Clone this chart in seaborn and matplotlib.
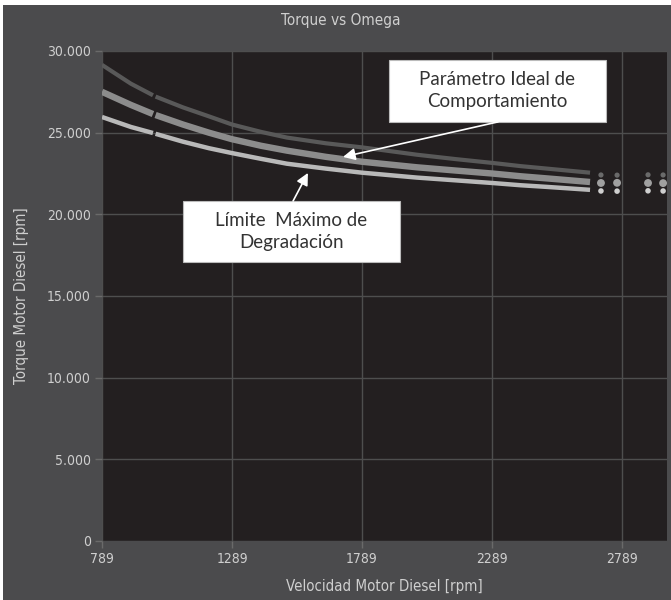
import numpy as np
import pandas as pd
import matplotlib.pyplot as plt
import seaborn as sns
from matplotlib.patches import Rectangle

# curvas torque vs velocidad
rpm = [789, 900, 985, 995, 1100, 1200, 1289, 1400, 1500, 1650, 1789,
       2000, 2150, 2289, 2400, 2500, 2666]
tramo = [0, 0, 0] + [1] * 14
torque_superior = [29150, 28000, 27290, 27210, 26550, 26000, 25500, 25050, 24700, 24350, 24100,
                   23650, 23380, 23150, 22950, 22800, 22550]
torque_ideal = [27500, 26700, 26140, 26080, 25500, 25000, 24600, 24200, 23900, 23520, 23220,
                22880, 22680, 22500, 22330, 22200, 21980]
torque_limite = [25960, 25350, 24980, 24930, 24450, 24050, 23750, 23400, 23100, 22800, 22550,
                 22250, 22080, 21920, 21780, 21680, 21500]

# puntos sueltos al final
rpm_sueltos = [2708, 2770, 2889, 2947]
sup_sueltos = [22410, 22400, 22420, 22410]
ideal_sueltos = [21920, 21930, 21920, 21910]
lim_sueltos = [21430, 21420, 21440, 21430]

x_ticks = [789, 1289, 1789, 2289, 2789]
y_ticks = [0, 5000, 10000, 15000, 20000, 25000, 30000]
y_labels = ["0", "5.000", "10.000", "15.000", "20.000", "25.000", "30.000"]

bg_outer = "#4b4b4d"
bg_plot = "#231f20"
txt_col = "#cfcfcf"

sns.set_theme(style="dark")
plt.rcParams['font.family'] = ['DejaVu Sans']
plt.rcParams['font.stretch'] = 'condensed'

fig = plt.figure(figsize=(6.71, 6.0), dpi=100, facecolor="white")
fig.patches.append(Rectangle((3 / 671, 0), 1, 1 - 5 / 600, transform=fig.transFigure,
                             facecolor=bg_outer, edgecolor="none", zorder=-1))
ax = fig.add_axes([102 / 671, 1 - 541 / 600, 565 / 671, 490 / 600])
ax.set_facecolor(bg_plot)

df = pd.DataFrame({"rpm": rpm, "tramo": tramo, "superior": torque_superior,
                   "ideal": torque_ideal, "limite": torque_limite})

estilos = [("superior", "#595959", 3.0), ("ideal", "#8c8c8c", 4.6), ("limite", "#b9b9b9", 3.2)]
for col, color, lw in estilos:
    sns.lineplot(data=df, x="rpm", y=col, units="tramo", estimator=None, ax=ax,
                 color=color, linewidth=lw, solid_capstyle="butt", zorder=3)

sueltos = pd.DataFrame({"rpm": rpm_sueltos, "superior": sup_sueltos,
                        "ideal": ideal_sueltos, "limite": lim_sueltos})
for col, color, s in [("superior", "#6a6a6a", 14), ("ideal", "#a0a0a0", 32), ("limite", "#cfcfcf", 16)]:
    sns.scatterplot(data=sueltos, x="rpm", y=col, ax=ax, color=color, s=s,
                    edgecolor="none", zorder=3)

ax.set_xlim(789, 2962)
ax.set_ylim(0, 30000)
ax.set_xticks(x_ticks)
ax.set_yticks(y_ticks)
ax.set_yticklabels(y_labels)
ax.grid(True, color="#4e4e4e", linewidth=1.0)
ax.set_axisbelow(True)
for sp in ax.spines.values():
    sp.set_visible(False)
ax.tick_params(axis="both", colors="#6a6a6a", labelcolor=txt_col, labelsize=10,
               length=5, width=1, left=True, bottom=True, pad=3)

ax.set_xlabel("Velocidad Motor Diesel [rpm]", color=txt_col, fontsize=10.8, labelpad=9)
ax.set_ylabel("Torque Motor Diesel [rpm]", color=txt_col, fontsize=10.8, labelpad=13)
fig.text(341 / 671, 1 - 21 / 600, "Torque vs Omega", color=txt_col, fontsize=11,
         ha="center", va="center")

# cuadros de anotacion
caja_font = ['Lato', 'DejaVu Sans']
ax.add_patch(Rectangle((1893, 25660), 834, 3795, facecolor="white", edgecolor="#bbbbbb",
                       lw=0.8, zorder=5))
ax.text(2310, 27560, "Parámetro Ideal de\nComportamiento", ha="center", va="center",
        fontsize=13.5, color="#333333", family=caja_font, stretch="normal",
        linespacing=1.35, zorder=6)
ax.annotate("", xy=(1716, 23515), xytext=(2312, 25660),
            arrowprops=dict(arrowstyle="-|>", color="white", lw=1.2, mutation_scale=18,
                            shrinkA=0, shrinkB=0), zorder=6)

ax.add_patch(Rectangle((1101, 17085), 834, 3735, facecolor="white", edgecolor="#bbbbbb",
                       lw=0.8, zorder=5))
ax.text(1518, 18950, "Límite  Máximo de\nDegradación", ha="center", va="center",
        fontsize=13.5, color="#333333", family=caja_font, stretch="normal",
        linespacing=1.35, zorder=6)
ax.annotate("", xy=(1581, 22535), xytext=(1524, 20820),
            arrowprops=dict(arrowstyle="-|>", color="white", lw=1.2, mutation_scale=18,
                            shrinkA=0, shrinkB=0), zorder=6)

fig.savefig("out.png", dpi=100, facecolor=fig.get_facecolor())
